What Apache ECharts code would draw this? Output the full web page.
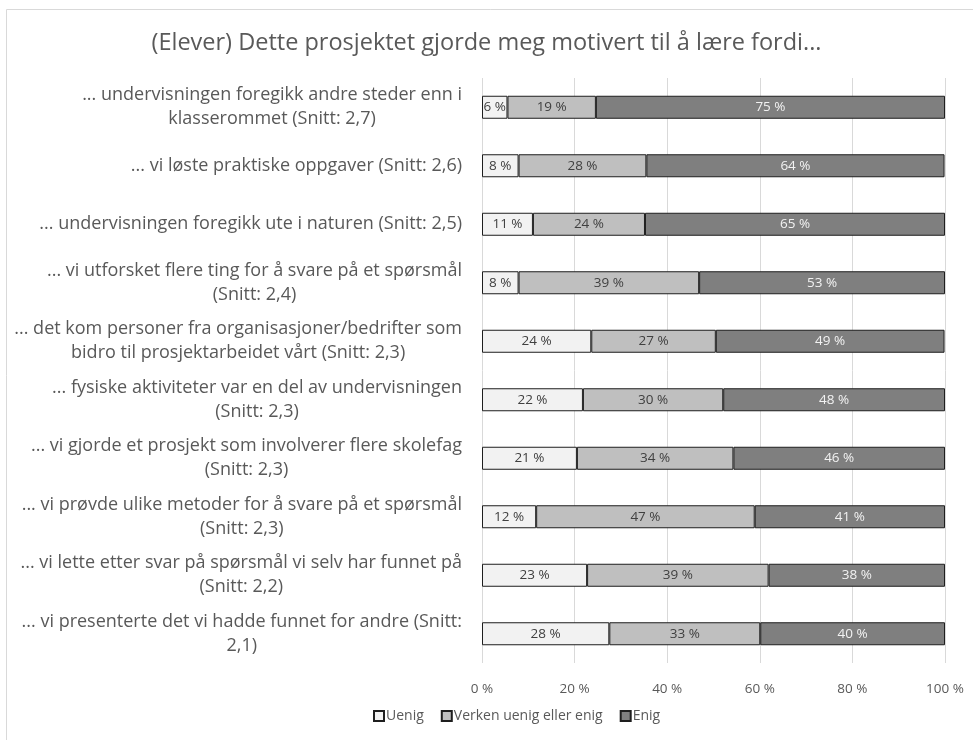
<!DOCTYPE html>
<html>
<head>
<meta charset="utf-8">
<script src="https://cdn.jsdelivr.net/npm/echarts@6/dist/echarts.min.js"></script>
<style>html,body{margin:0;padding:0;background:#fff}#c{width:973px;height:740px}</style>
</head>
<body>
<div id="c"></div>
<script>
const titleText = '(Elever) Dette prosjektet gjorde meg motivert til å lære fordi...';
const categories = [
  '... undervisningen foregikk andre steder enn i\nklasserommet (Snitt: 2,7)',
  '... vi løste praktiske oppgaver (Snitt: 2,6)',
  '... undervisningen foregikk ute i naturen (Snitt: 2,5)',
  '... vi utforsket flere ting for å svare på et spørsmål\n(Snitt: 2,4)',
  '... det kom personer fra organisasjoner/bedrifter som\nbidro til prosjektarbeidet vårt (Snitt: 2,3)',
  '... fysiske aktiviteter var en del av undervisningen\n(Snitt: 2,3)',
  '... vi gjorde et prosjekt som involverer flere skolefag\n(Snitt: 2,3)',
  '... vi prøvde ulike metoder for å svare på et spørsmål\n(Snitt: 2,3)',
  '... vi lette etter svar på spørsmål vi selv har funnet på\n(Snitt: 2,2)',
  '... vi presenterte det vi hadde funnet for andre (Snitt:\n2,1)'
];
const seriesNames = ['Uenig', 'Verken uenig eller enig', 'Enig'];
const uenig  = [5.5, 7.9, 11.0, 7.9, 23.6, 21.8, 20.5, 11.7, 22.7, 27.5];
const verken = [19.1, 27.6, 24.2, 39.0, 26.9, 30.3, 33.8, 47.2, 39.2, 32.6];
const enig   = [75.4, 64.4, 64.8, 53.1, 49.4, 47.9, 45.7, 41.1, 38.1, 39.9];
const xTicks = [0, 20, 40, 60, 80, 100];

const FONT = '"Open Sans"';
const colors = ['#f2f2f2', '#bfbfbf', '#7f7f7f'];
const labelColors = ['#404040', '#404040', '#f2f2f2'];
const values = [uenig, verken, enig];

const chart = echarts.init(document.getElementById('c'));
chart.setOption({
  animation: false,
  textStyle: { fontFamily: FONT },
  title: {
    text: titleText, left: 'center', top: 26,
    textStyle: { fontFamily: FONT, fontSize: 23.5, fontWeight: 'normal', color: '#595959' }
  },
  graphic: [{
    type: 'rect', shape: { x: 6.5, y: 9.5, width: 1000, height: 800 },
    style: { fill: 'none', stroke: '#d9d9d9', lineWidth: 1 }, silent: true
  }],
  legend: {
    data: seriesNames, left: 368, bottom: 12, itemWidth: 10, itemHeight: 10, itemGap: 17,
    icon: 'rect',
    textStyle: { fontFamily: FONT, fontSize: 14, color: '#595959', padding: [0, 0, 0, -3] }
  },
  grid: { left: 482, right: 28, top: 78, bottom: 77, containLabel: false },
  xAxis: {
    type: 'value', min: 0, max: 100, interval: 20,
    axisLine: { show: false }, axisTick: { show: false },
    splitLine: { lineStyle: { color: '#d9d9d9', width: 1 } },
    axisLabel: { formatter: v => xTicks.includes(v) ? v + ' %' : '', fontFamily: FONT, fontSize: 13.5, color: '#595959', margin: 19 }
  },
  yAxis: {
    type: 'category', inverse: true, data: categories,
    axisLine: { show: false }, axisTick: { show: false },
    axisLabel: {
      margin: 20, align: 'right',
      formatter: v => '{c|' + v + '}',
      rich: { c: { align: 'center', fontFamily: FONT, fontSize: 18, color: '#595959', lineHeight: 24 } }
    }
  },
  series: seriesNames.map((n, i) => ({
    name: n, type: 'bar', stack: 'total', barWidth: 23,
    data: values[i],
    itemStyle: { color: colors[i], borderColor: '#1e1e1e', borderWidth: 1 },
    label: {
      show: true, position: 'inside', formatter: p => Math.round(p.value) + ' %',
      fontFamily: FONT, fontSize: 13.5, color: labelColors[i]
    }
  }))
});
</script>
</body>
</html>
